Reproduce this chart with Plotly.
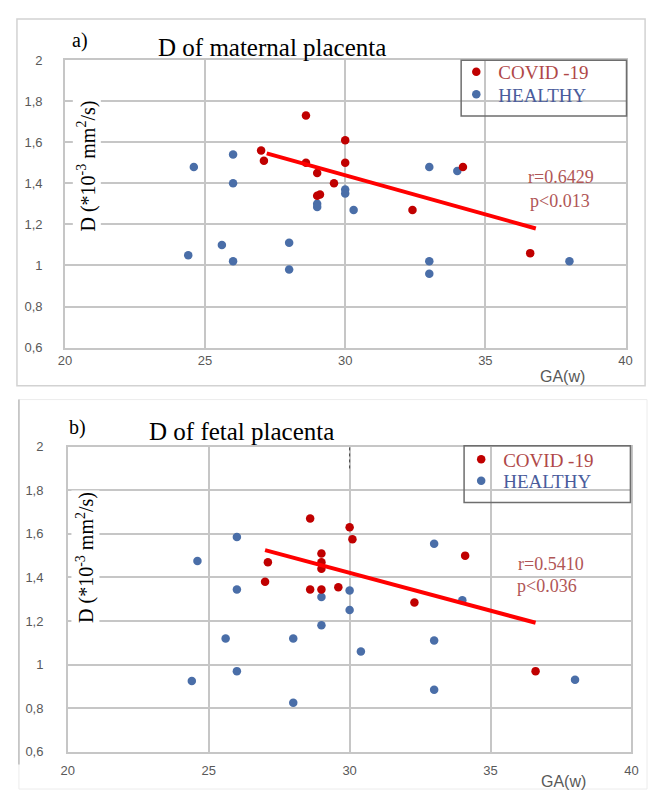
import plotly.graph_objects as go

# ---------------- data ----------------
# Panel a) D of maternal placenta
covid_ga_a = [28.6, 30.0, 27.0, 27.1, 28.6, 30.0, 29.0, 29.6, 29.0, 29.1, 32.4, 34.2, 36.6]
covid_d_a = [1.73, 1.61, 1.56, 1.51, 1.50, 1.50, 1.45, 1.40, 1.34, 1.345, 1.27, 1.48, 1.06]
healthy_ga_a = [26.0, 24.6, 26.0, 30.0, 30.0, 29.0, 29.0, 30.3, 25.6, 24.4, 26.0, 28.0, 28.0,
                33.0, 34.0, 33.0, 33.0, 38.0]
healthy_d_a = [1.54, 1.48, 1.40, 1.37, 1.35, 1.30, 1.285, 1.27, 1.10, 1.05, 1.02, 1.11, 0.98,
               1.48, 1.46, 1.02, 0.96, 1.02]
trend_ga_a = [27.2, 36.8]
trend_d_a = [1.546, 1.18]
stats_a = ["r=0.6429", "p<0.013"]

# Panel b) D of fetal placenta
covid_ga_b = [28.6, 30.0, 30.1, 29.0, 29.0, 29.0, 27.1, 27.0, 28.6, 29.0, 29.6, 32.3, 34.1, 36.6]
covid_d_b = [1.67, 1.63, 1.575, 1.51, 1.47, 1.44, 1.47, 1.38, 1.345, 1.345, 1.355, 1.285, 1.50, 0.97]
healthy_ga_b = [26.0, 24.6, 26.0, 29.0, 30.0, 30.0, 29.0, 25.6, 28.0, 30.4, 26.0, 24.4, 28.0,
                33.0, 34.0, 33.0, 33.0, 38.0]
healthy_d_b = [1.585, 1.475, 1.345, 1.31, 1.34, 1.25, 1.18, 1.12, 1.12, 1.06, 0.97, 0.925, 0.825,
               1.555, 1.295, 1.11, 0.885, 0.93]
trend_ga_b = [27.0, 36.6]
trend_d_b = [1.525, 1.192]
stats_b = ["r=0.5410", "p<0.036"]

x_ticks = [20, 25, 30, 35, 40]
x_ticktext = ["20", "25", "30", "35", "40"]
y_ticks = [0.6, 0.8, 1.0, 1.2, 1.4, 1.6, 1.8, 2.0]
y_ticktext = ["0,6", "0,8", "1", "1,2", "1,4", "1,6", "1,8", "2"]

series_names = ["COVID -19", "HEALTHY"]
titles = ["D of maternal placenta", "D of fetal placenta"]
panel_labels = ["a)", "b)"]
y_title = "D (*10<sup>-3</sup> mm<sup>2</sup>/s)"
x_title = "GA(w)"

# ---------------- style ----------------
PAGE_W, PAGE_H = 656, 799
OFF = 8  # default body margin of the html page
W, H = PAGE_W - OFF, PAGE_H - OFF
RED = "#c00000"
BLUE = "#4a6ea8"
LINE_RED = "#ff0000"
STAT_COL = "#b05656"
LEG_RED = "#b04848"
LEG_BLUE = "#4a5c9c"
GRID = "#c6c6c6"
TICK_COL = "#595959"
SERIF = "Liberation Serif, Times New Roman, serif"
SANS = "Liberation Sans, Arial, sans-serif"


def px_x(p):
    return (p - OFF) / W


def px_y(p):
    return 1 - (p - OFF) / H


fig = go.Figure()

panels = [
    dict(cg=covid_ga_a, cd=covid_d_a, hg=healthy_ga_a, hd=healthy_d_a, tg=trend_ga_a, td=trend_d_a,
         xa="x", ya="y", leg_c="legend", leg_h="legend3"),
    dict(cg=covid_ga_b, cd=covid_d_b, hg=healthy_ga_b, hd=healthy_d_b, tg=trend_ga_b, td=trend_d_b,
         xa="x2", ya="y2", leg_c="legend2", leg_h="legend4"),
]

for p in panels:
    fig.add_trace(go.Scatter(
        x=p["hg"], y=p["hd"], mode="markers", xaxis=p["xa"], yaxis=p["ya"],
        marker=dict(color=BLUE, size=8.5),
        name=f"<span style='color:{LEG_BLUE}'>{series_names[1]}</span>",
        legend=p["leg_h"], showlegend=True))
    fig.add_trace(go.Scatter(
        x=p["cg"], y=p["cd"], mode="markers", xaxis=p["xa"], yaxis=p["ya"],
        marker=dict(color=RED, size=8.5),
        name=f"<span style='color:{LEG_RED}'>{series_names[0]}</span>",
        legend=p["leg_c"], showlegend=True))
    fig.add_trace(go.Scatter(
        x=p["tg"], y=p["td"], mode="lines", xaxis=p["xa"], yaxis=p["ya"],
        line=dict(color=LINE_RED, width=4), showlegend=False, hoverinfo="skip"))

# plot area pixel boxes (page coordinates)
top_box = dict(x0=59, x1=632, y0=54, y1=347)
bot_box = dict(x0=62, x1=638, y0=448, y1=759)

axis_common = dict(
    range=[20, 40], tickvals=x_ticks, ticktext=x_ticktext, showgrid=True, gridcolor=GRID,
    gridwidth=1.5, zeroline=False, showline=True, linecolor=GRID, linewidth=1.5, mirror=True,
    ticks="", tickfont=dict(family=SANS, size=13, color=TICK_COL), fixedrange=True)
yaxis_common = dict(
    range=[0.6, 2.0], tickvals=y_ticks, ticktext=y_ticktext, showgrid=True, gridcolor=GRID,
    gridwidth=1.5, zeroline=False, showline=True, linecolor=GRID, linewidth=1.5, mirror=True,
    ticks="", tickfont=dict(family=SANS, size=13, color=TICK_COL), fixedrange=True)

legend_common = dict(xanchor="left", yanchor="middle", bgcolor="rgba(0,0,0,0)", borderwidth=0,
                     font=dict(family=SERIF, size=19), itemwidth=34, tracegroupgap=0)

fig.update_layout(
    width=W, height=H, margin=dict(l=0, r=0, t=0, b=0),
    paper_bgcolor="white", plot_bgcolor="white",
    xaxis=dict(axis_common, domain=[px_x(top_box["x0"]), px_x(top_box["x1"])], anchor="y",
               ticklabelstandoff=0),
    yaxis=dict(yaxis_common, domain=[px_y(top_box["y1"]), px_y(top_box["y0"])], anchor="x",
               ticklabelstandoff=18),
    xaxis2=dict(axis_common, domain=[px_x(bot_box["x0"]), px_x(bot_box["x1"])], anchor="y2",
                ticklabelstandoff=6),
    yaxis2=dict(yaxis_common, domain=[px_y(bot_box["y1"]), px_y(bot_box["y0"])], anchor="x2",
                ticklabelstandoff=20),
    legend=dict(legend_common, x=px_x(457), y=px_y(66)),
    legend3=dict(legend_common, x=px_x(457), y=px_y(89)),
    legend2=dict(legend_common, x=px_x(462), y=px_y(461)),
    legend4=dict(legend_common, x=px_x(462), y=px_y(483)),
    showlegend=True,
)

shapes = []
# outer frames of the two panels
shapes.append(dict(type="rect", xref="paper", yref="paper", x0=px_x(10), x1=px_x(652),
                   y0=px_y(386), y1=px_y(12), line=dict(color="#d2d2d2", width=1.5)))
shapes.append(dict(type="rect", xref="paper", yref="paper", x0=px_x(12), x1=px_x(654),
                   y0=px_y(797), y1=px_y(400), line=dict(color="#ececec", width=1)))
shapes.append(dict(type="line", xref="paper", yref="paper", x0=px_x(12), x1=px_x(12),
                   y0=px_y(772), y1=px_y(400), line=dict(color="#bdbdbd", width=1.5)))
# legend boxes
shapes.append(dict(type="rect", xref="paper", yref="paper", x0=px_x(464), x1=px_x(633),
                   y0=px_y(111), y1=px_y(54), line=dict(color="#6e6e6e", width=1.5)))
shapes.append(dict(type="rect", xref="paper", yref="paper", x0=px_x(467), x1=px_x(637),
                   y0=px_y(505), y1=px_y(447), line=dict(color="#6e6e6e", width=1.5)))
# small dotted mark at top of panel b
shapes.append(dict(type="line", xref="x2", yref="y2", x0=30, x1=30, y0=1.9, y1=2.0,
                   line=dict(color="#444444", width=1, dash="dot")))
fig.update_layout(shapes=shapes)


def pann(text, x, y, size, color="black", family=SERIF, **kw):
    d = dict(text=text, x=px_x(x), y=px_y(y), xref="paper", yref="paper",
             xanchor="center", yanchor="middle", showarrow=False,
             font=dict(family=family, size=size, color=color))
    d.update(kw)
    return d


ann = []
# panel labels and titles
ann.append(pann(panel_labels[0], 74, 34, 20))
ann.append(pann(titles[0], 271, 41, 25))
ann.append(pann(panel_labels[1], 72, 428, 20))
ann.append(pann(titles[1], 239, 433, 25))
# y-axis titles (placed inside plot, white background)
ann.append(pann(y_title, 81, 162, 20, textangle=-90, bgcolor="white"))
ann.append(pann(y_title, 80, 561, 20, textangle=-90, bgcolor="white"))
# x-axis titles
ann.append(pann(x_title, 568, 376, 16, color=TICK_COL, family=SANS))
ann.append(pann(x_title, 569, 789, 16, color=TICK_COL, family=SANS))
# statistics (data coordinates)
for txt, xv, yv, xr, yr in [
    (stats_a[0], 37.7, 1.431, "x", "y"),
    (stats_a[1], 37.65, 1.312, "x", "y"),
    (stats_b[0], 37.15, 1.463, "x2", "y2"),
    (stats_b[1], 37.0, 1.36, "x2", "y2"),
]:
    ann.append(dict(text=txt, x=xv, y=yv, xref=xr, yref=yr, showarrow=False,
                    xanchor="center", yanchor="middle",
                    font=dict(family=SERIF, size=18, color=STAT_COL)))
fig.update_layout(annotations=ann)

fig.write_html("out.html")
